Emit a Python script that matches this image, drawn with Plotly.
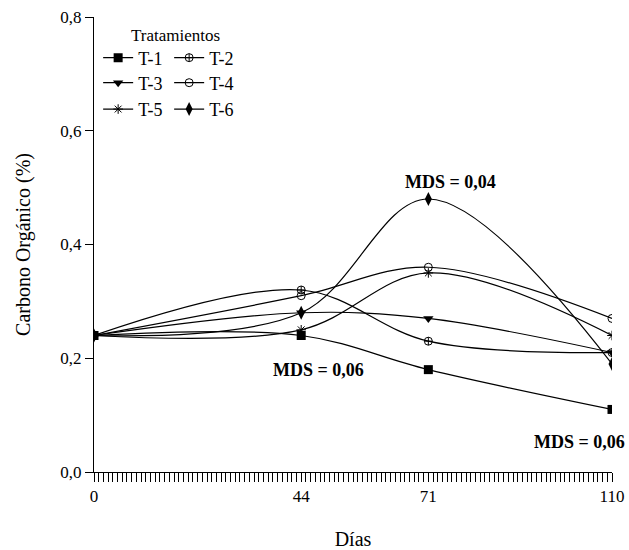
import plotly.graph_objects as go

# Sampling days and organic carbon (%) per treatment
dias = [0, 44, 71, 110]
tratamientos = ["T-1", "T-2", "T-3", "T-4", "T-5", "T-6"]
t1 = [0.24, 0.24, 0.18, 0.11]
t2 = [0.24, 0.32, 0.23, 0.21]
t3 = [0.24, 0.28, 0.27, 0.21]
t4 = [0.24, 0.31, 0.36, 0.27]
t5 = [0.24, 0.25, 0.35, 0.24]
t6 = [0.24, 0.28, 0.48, 0.19]
series = [t1, t2, t3, t4, t5, t6]

y_ticks = [0.0, 0.2, 0.4, 0.6, 0.8]

SERIF = "Liberation Serif"

# marker style per treatment: (symbol, size, line width)
estilos = [
    ("square", 9, 0),
    ("circle-cross-open", 8, 1),
    ("triangle-down", 9, 0),
    ("circle-open", 8, 1),
    ("asterisk-open", 8, 1),
    ("diamond-tall", 10, 0),
]
leyendas = ["legend", "legend", "legend2", "legend2", "legend3", "legend3"]

fig = go.Figure()
for nombre, vals, (sym, size, lw), leg in zip(tratamientos, series, estilos, leyendas):
    fig.add_trace(go.Scatter(
        x=dias, y=vals, name=nombre, mode="lines+markers",
        line=dict(color="black", width=1.2, shape="spline", smoothing=1),
        marker=dict(symbol=sym, size=size, color="black",
                    line=dict(color="black", width=lw)),
        legend=leg,
    ))

leg_common = dict(
    orientation="h", xanchor="left", yanchor="middle",
    font=dict(family=SERIF, size=18, color="black"),
    bgcolor="rgba(0,0,0,0)", itemwidth=30, tracegroupgap=0,
    entrywidth=26, entrywidthmode="pixels",
)

fig.update_layout(
    width=629, height=550,
    margin=dict(l=94, r=17, t=17, b=78),
    paper_bgcolor="white", plot_bgcolor="white",
    separators=",.",
    font=dict(family=SERIF, color="black"),
    showlegend=True,
    legend=dict(x=0.008, y=0.910, **leg_common),
    legend2=dict(x=0.008, y=0.855, **leg_common),
    legend3=dict(x=0.008, y=0.797, **leg_common),
    xaxis=dict(
        range=[0, 110], tickvals=dias, showline=True, linecolor="black", linewidth=1,
        ticks="outside", ticklen=9, tickcolor="black", tickwidth=1,
        minor=dict(dtick=1, tick0=0, ticks="outside", ticklen=9,
                   tickcolor="black", tickwidth=1, showgrid=False),
        showgrid=False, zeroline=False, automargin=False,
        tickfont=dict(family=SERIF, size=17, color="black"),
        title=dict(text="Días", font=dict(family=SERIF, size=20, color="black"), standoff=26),
    ),
    yaxis=dict(
        range=[0, 0.8], tickvals=y_ticks, tickformat=".1f",
        showline=True, linecolor="black", linewidth=1,
        ticks="outside", ticklen=8, tickcolor="black", tickwidth=1,
        showgrid=False, zeroline=False, automargin=False,
        tickfont=dict(family=SERIF, size=17, color="black"),
        title=dict(text="Carbono Orgánico (%)", font=dict(family=SERIF, size=20, color="black"),
                   standoff=24),
    ),
    annotations=[
        dict(text="Tratamientos", xref="paper", yref="paper", x=0.158, y=0.96,
             xanchor="center", yanchor="middle",
             showarrow=False, font=dict(family=SERIF, size=17, color="black")),
        dict(text="<b>MDS = 0,04</b>", xref="x", yref="y", x=75.6, y=0.51,
             showarrow=False, font=dict(family=SERIF, size=18, color="black")),
        dict(text="<b>MDS = 0,06</b>", xref="x", yref="y", x=47.6, y=0.179,
             showarrow=False, font=dict(family=SERIF, size=18, color="black")),
        dict(text="<b>MDS = 0,06</b>", xref="x", yref="y", x=103.2, y=0.053,
             showarrow=False, font=dict(family=SERIF, size=18, color="black")),
    ],
)

fig.write_html("out.html")
